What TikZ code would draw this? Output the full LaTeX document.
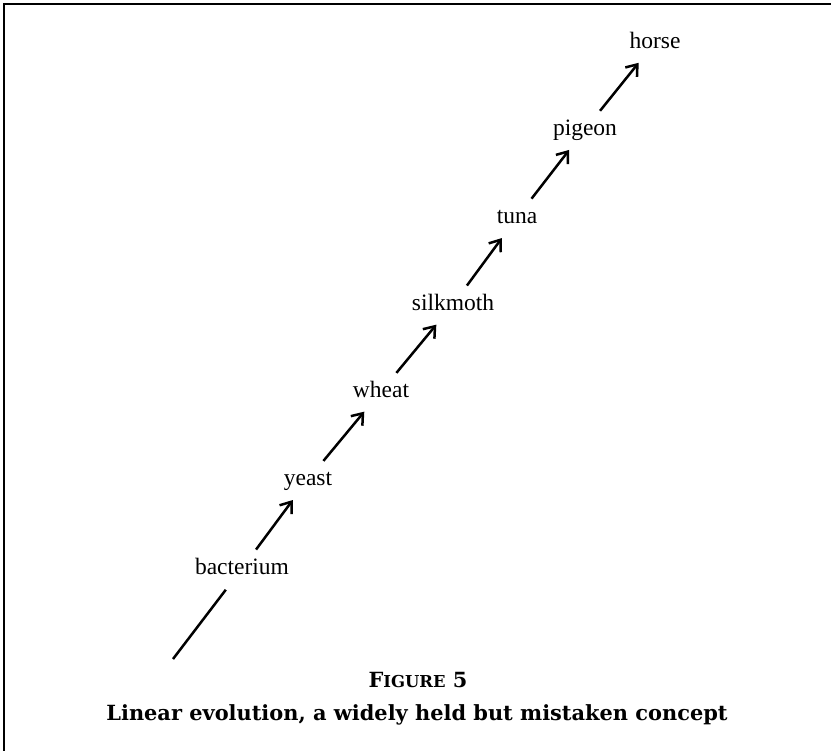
\documentclass[tikz,border=0pt]{standalone}
\usepackage{fontspec}
\setmainfont{Liberation Serif}
\newfontfamily\capfont{DejaVu Serif}
\usetikzlibrary{arrows.meta}

\begin{document}
\begin{tikzpicture}
  [
  x=0.5pt,y=-0.5pt,
  species/.style={inner sep=0pt,anchor=base,text height=8pt,text depth=2.5pt,font=\fontsize{11.75}{14}\selectfont},
  pre/.style={<-,shorten <=6pt,shorten >=5pt,>={Straight Barb[length=5pt,width=7.5pt]},line width=1.25pt},
  caption/.style={anchor=base,inner sep=0pt,font=\capfont\bfseries\fontsize{10.45}{12}\selectfont}
  ]
  \useasboundingbox (0,0) rectangle (831,751);
  \draw[line width=1pt] (831,4) -- (4,4) -- (4,751);
  \coordinate (start) at (173,659);
  \node[species] (bacterium) at (242,574) {bacterium};
  \draw[line width=1.25pt,shorten >=6.5pt] (start) -- (bacterium);
  \node[species] (yeast) at (308,485) {yeast}
  edge[pre] (bacterium);
  \node[species] (wheat) at (381,397) {wheat}
  edge[pre] (yeast);
  \node[species] (silkmoth) at (453,310) {silkmoth}
  edge[pre] (wheat);
  \node[species] (tuna) at (517,223) {tuna}
  edge[pre] (silkmoth);
  \node[species] (pigeon) at (585,135) {pigeon}
  edge[pre] (tuna);
  \node[species] (horse) at (655,48) {horse}
  edge[pre] (pigeon);
  \node[caption] (number) at (418,687) {F{\fontsize{8.2}{9}\selectfont IGURE} 5};
  \node[caption] (title) at (417,720) {Linear evolution, a widely held but mistaken concept};
\end{tikzpicture}
\end{document}
